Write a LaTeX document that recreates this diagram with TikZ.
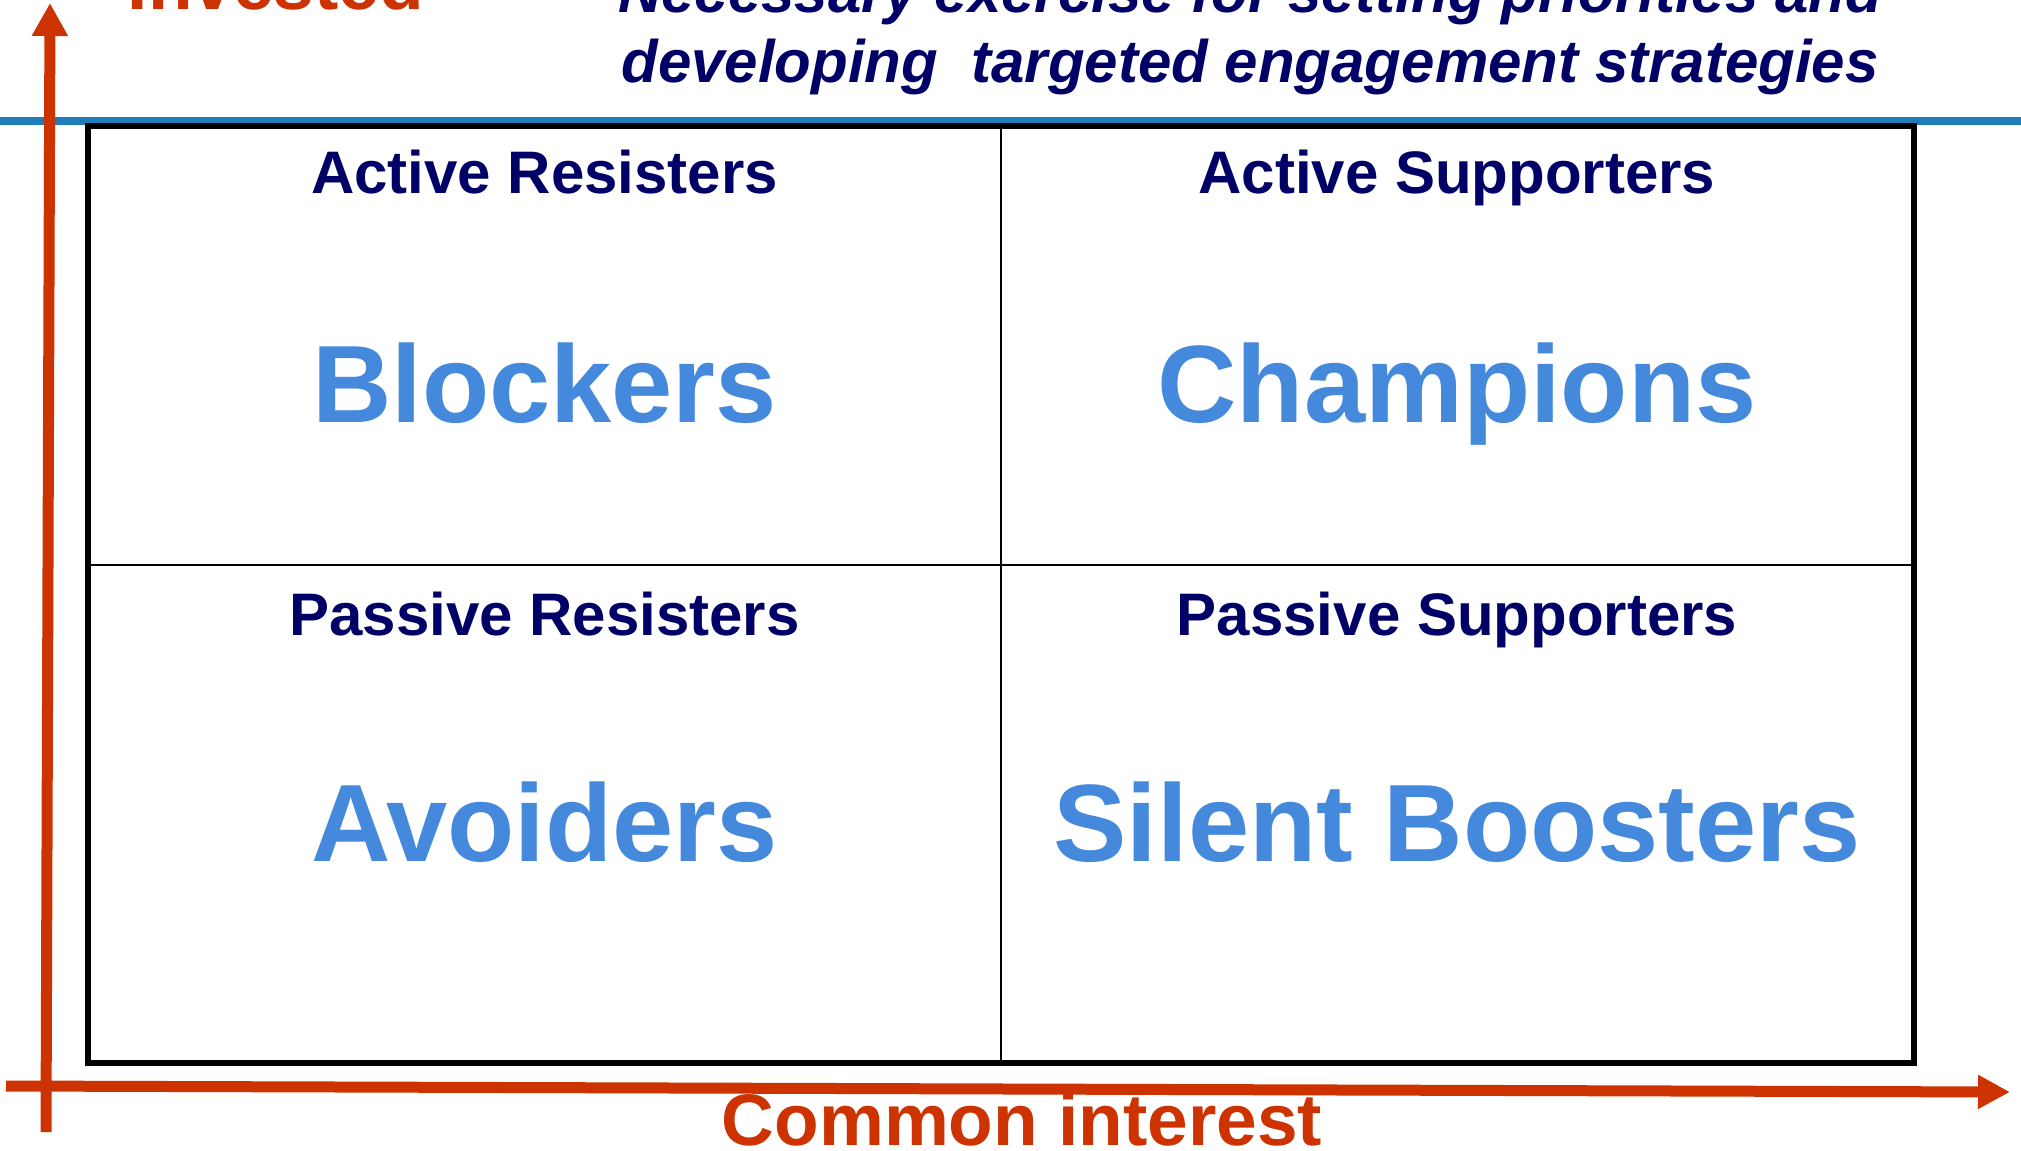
\documentclass[tikz,border=0pt]{standalone}
\usepackage{fontspec}
\setmainfont{Liberation Sans}
\usetikzlibrary{arrows.meta}
\definecolor{navy}{RGB}{0,0,102}
\definecolor{lblue}{RGB}{68,137,219}
\definecolor{axisred}{RGB}{204,51,0}
\definecolor{rulecol}{RGB}{31,125,186}
\begin{document}
\begin{tikzpicture}[x=0.5pt,y=-0.5pt,
  head/.style={font=\bfseries\fontsize{30}{36}\selectfont, text=navy, anchor=base, inner sep=0pt},
  big/.style={font=\bfseries\fontsize{55}{66}\selectfont, text=lblue, anchor=base, inner sep=0pt},
  title/.style={font=\bfseries\itshape\fontsize{30}{35}\selectfont, text=navy, anchor=base, inner sep=0pt},
  axislabel/.style={font=\bfseries\fontsize{36.5}{42}\selectfont, text=axisred, anchor=base, inner sep=0pt},
  axis/.style={draw=axisred, line width=5.5pt},
  frame/.style={draw=black, line width=2.75pt},
  grid/.style={draw=black, line width=1pt}]
\useasboundingbox (0,0) rectangle (2021,1150);
% top rule
\coordinate (rl) at (0,121);
\coordinate (rr) at (2021,121);
\draw[rulecol, line width=4pt] (rl) -- (rr);
% title
\node[title] (t1) at (1250,13) {Necessary exercise for setting priorities and};
\node[title] (t2) at (1250,83) {developing~ targeted engagement strategies};
% frame and grid
\coordinate (tl) at (88,126);
\coordinate (br) at (1914,1063);
\coordinate (mt) at (1001,126);
\coordinate (mb) at (1001,1063);
\coordinate (ml) at (88,565);
\coordinate (mr) at (1914,565);
\draw[grid] (mt) -- (mb);
\draw[grid] (ml) -- (mr);
\draw[frame] (tl) rectangle (br);
% quadrant texts
\node[head] (ar) at (544.5,194) {Active Resisters};
\node[head] (as) at (1457,194) {Active Supporters};
\node[head] (pr) at (544.5,635) {Passive Resisters};
\node[head] (ps) at (1457,635) {Passive Supporters};
\node[big] (bl) at (544.5,422) {Blockers};
\node[big] (ch) at (1457,422) {Champions};
\node[big] (av) at (544.5,861) {Avoiders};
\node[big] (sb) at (1457,861) {Silent Boosters};
% axes
\coordinate (vb) at (46,1132);
\coordinate (vt) at (50,3);
\coordinate (hl) at (6,1086);
\coordinate (hr) at (2010,1092);
\draw[axis, -{Triangle[width=17pt,length=16.5pt]}] (vb) -- (vt);
\draw[axis, -{Triangle[width=16pt,length=16pt]}] (hl) -- (hr);
\node[axislabel] (inv) at (276,10) {Invested};
\node[axislabel] (ci) at (1022,1145) {Common interest};
\end{tikzpicture}
\end{document}
